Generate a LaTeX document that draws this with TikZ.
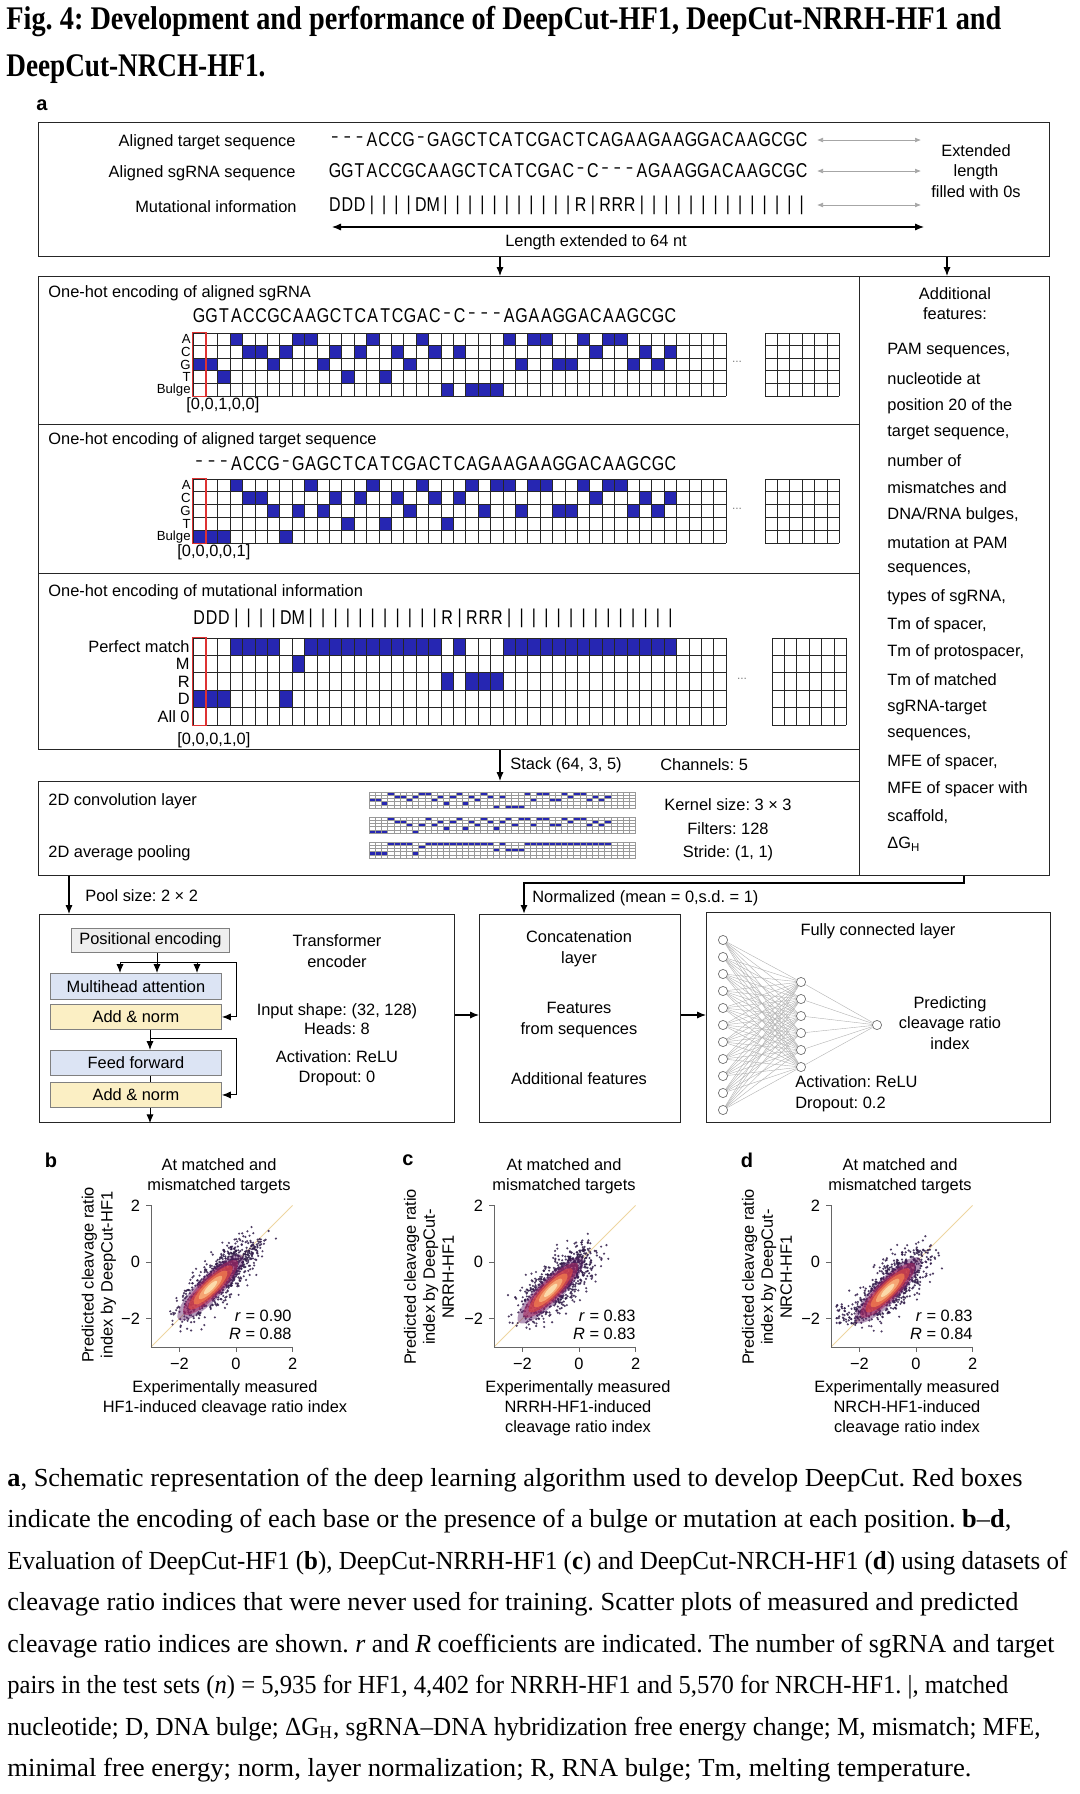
\documentclass[tikz,border=0pt]{standalone}
\usepackage{fontspec}
\usepackage{graphicx}
\setmainfont{Liberation Serif}
\newfontfamily\ff{Liberation Sans}
\newfontfamily\seqfont[FakeStretch=0.8]{Liberation Sans}
\usetikzlibrary{arrows.meta,calc}
\frenchspacing

\definecolor{cellblue}{RGB}{38,38,178}
\definecolor{redc}{RGB}{222,50,50}
\definecolor{pebg}{RGB}{238,238,238}
\definecolor{mhbg}{RGB}{220,228,244}
\definecolor{anbg}{RGB}{251,239,196}
\definecolor{dotc}{RGB}{48,28,72}
\definecolor{cA}{RGB}{95,32,105}
\definecolor{cB}{RGB}{165,42,100}
\definecolor{cC}{RGB}{218,70,70}
\definecolor{cD}{RGB}{242,125,78}
\definecolor{cE}{RGB}{250,180,125}
\definecolor{cF}{RGB}{253,228,180}
\definecolor{diagc}{RGB}{238,214,160}

\expandafter\def\csname rowofA\endcsname{0}
\expandafter\def\csname rowofC\endcsname{1}
\expandafter\def\csname rowofG\endcsname{2}
\expandafter\def\csname rowofT\endcsname{3}
\expandafter\def\csname rowof-\endcsname{4}
\expandafter\def\csname rowof|\endcsname{0}
\expandafter\def\csname rowofM\endcsname{1}
\expandafter\def\csname rowofR\endcsname{2}
\expandafter\def\csname rowofD\endcsname{3}
\expandafter\def\csname glyphof-\endcsname{\scalebox{0.62}[1]{–}}

\def\sgseq{G,G,T,A,C,C,G,C,A,A,G,C,T,C,A,T,C,G,A,C,-,C,-,-,-,A,G,A,A,G,G,A,C,A,A,G,C,G,C}
\def\tgseq{-,-,-,A,C,C,G,-,G,A,G,C,T,C,A,T,C,G,A,C,T,C,A,G,A,A,G,A,A,G,G,A,C,A,A,G,C,G,C}
\def\mseq{D,D,D,|,|,|,|,D,M,|,|,|,|,|,|,|,|,|,|,|,R,|,R,R,R,|,|,|,|,|,|,|,|,|,|,|,|,|,|}

\tikzset{
 ft/.style={font=\ff\fontsize{8.2}{9.8}\selectfont},
 every node/.style={inner sep=0pt, ft},
 bx/.style={draw=black!85, line width=0.65pt},
 arr/.style={-{Latex[length=4.5pt,width=3.6pt]}, line width=0.55pt},
 darr/.style={{Latex[length=4.5pt,width=3.6pt]}-{Latex[length=4.5pt,width=3.6pt]}, line width=0.55pt},
 garr/.style={{Latex[length=3pt,width=2.4pt]}-{Latex[length=3pt,width=2.4pt]}, draw=black!35, line width=0.35pt},
 seqf/.style={font=\seqfont\fontsize{10}{11}\selectfont, text=black},
 gl/.style={draw=black!85, line width=0.35pt},
 mgl/.style={draw=black!40, line width=0.12pt},
 nn/.style={circle, draw=black!55, fill=white, minimum size=4.6pt, line width=0.35pt},
 nnl/.style={draw=black!30, line width=0.2pt},
 axc/.style={draw=black!60, line width=0.4pt},
 inb/.style={draw=black!50, line width=0.45pt},
 rowl/.style={anchor=east, font=\ff\fontsize{6.6}{7}\selectfont},
}

\newcommand{\mybox}[7]{\node[#6, minimum width={(#4-#2)*0.5pt}, minimum height={(#5-#3)*0.5pt}, anchor=north west] (#1) at (#2,#3) {#7};}
\newcommand{\ohfill}[5]{\foreach \c [count=\i from 0] in #5 {\edef\rr{\csname rowof\c\endcsname}\fill[cellblue] ({#1+\i*#3},{#2+\rr*#4}) rectangle ++(#3,#4);}}
\newcommand{\ohlines}[6]{%
 \foreach \k in {0,...,#5} \draw[#6] ({#1+\k*#3},#2) -- ++(0,{5*#4});
 \foreach \k in {0,...,5} \draw[#6] (#1,{#2+\k*#4}) -- ++({#5*#3},0);}
\newcommand{\seqtext}[5]{\foreach \c [count=\i from 0] in #4 \node[seqf, name=#5\i] at ({#1+\i*#2},#3) {\ifcsname glyphof\c\endcsname\csname glyphof\c\endcsname\else\c\fi};}

\newcommand{\scplot}[7]{% shiftx, seed, center, along, perp, tail, corecenter
\begin{scope}[shift={(#1,1262)}, x=14.15pt, y=14.15pt]
 \begin{scope}
  \clip (-3.05,-3.05) rectangle (2.3,2.3);
  \draw[diagc, line width=0.5pt] (-3,-3) -- (2,2);
  \pgfmathsetseed{#2}
  \foreach \k in {1,...,900}{
    \pgfmathsetmacro\g{#3+(rand+rand+rand)*#4}
    \pgfmathsetmacro\h{(rand+rand+rand)*#5}
    \pgfmathsetmacro\px{\g+(\h)}
    \pgfmathsetmacro\py{\g-(\h)}
    \fill[dotc, opacity=0.85] (\px,\py) circle (0.6pt);
  }
  \foreach \k in {1,...,80}{
    \pgfmathsetmacro\g{#3+(rand+rand)*#4*1.1}
    \pgfmathsetmacro\h{rand*#5*3.4}
    \pgfmathsetmacro\px{\g+(\h)}
    \pgfmathsetmacro\py{\g-(\h)}
    \fill[dotc, opacity=0.85] (\px,\py) circle (0.6pt);
  }
  \ifnum#6=1
  \foreach \k in {1,...,60}{
    \pgfmathsetmacro\px{-2.4+rand*0.45}
    \pgfmathsetmacro\py{-1.85+rand*0.38}
    \fill[dotc, opacity=0.85] (\px,\py) circle (0.6pt);
  }
  \fi
  \begin{scope}[shift={(#7,#7)}, rotate=45]
    \fill[cA, opacity=.45] (0,0) ellipse (1.6 and 0.44);
    \fill[cB, opacity=.6] (0,0) ellipse (1.33 and 0.36);
    \fill[cC, opacity=.7] (0,0) ellipse (1.07 and 0.28);
    \fill[cD, opacity=.75] (0,0) ellipse (0.82 and 0.22);
    \fill[cE, opacity=.8] (0,0) ellipse (0.57 and 0.15);
    \fill[cF, opacity=.85] (0,0) ellipse (0.32 and 0.09);
  \end{scope}
 \end{scope}
 \draw[axc] (-3,2) -- (-3,-3) -- (2,-3);
 \foreach \v/\t [count=\n] in {-2/−2,0/0,2/2}{
   \draw[axc] (-3,\v) -- (-3.17,\v);
   \draw[axc] (\v,-3) -- (\v,-3.17);
   \node[anchor=east, name=ty#1n\n] at (-3.38,\v) {\t};
   \node[anchor=north, name=tx#1n\n] at (\v,-3.38) {\t};
 }
\end{scope}}

\begin{document}
\begin{tikzpicture}[x=0.5pt,y=-0.5pt]
\useasboundingbox (0,0) rectangle (1080,1794);
\fill[white] (0,0) rectangle (1080,1794);

% ---------------- title
\node[anchor=base west, font=\rmfamily\bfseries\fontsize{16.5}{18}\selectfont] (title1) at (6,29) {\resizebox{497.5pt}{\height}{Fig. 4: Development and performance of DeepCut-HF1, DeepCut-NRRH-HF1 and}};
\node[anchor=base west, font=\rmfamily\bfseries\fontsize{16.5}{18}\selectfont] (title2) at (6,76) {\resizebox{129.5pt}{\height}{DeepCut-NRCH-HF1.}};
\node[font=\ff\bfseries\fontsize{10}{12}\selectfont] (lbla) at (42,105) {a};

% ---------------- boxes
\mybox{topbox}{38}{122}{1049}{256}{bx}{}
\mybox{sgbox}{38}{276}{859}{424}{bx}{}
\mybox{tgbox}{38}{424}{859}{573}{bx}{}
\mybox{mbox}{38}{573}{859}{749}{bx}{}
\mybox{rbox}{859}{276}{1049}{875}{bx}{}
\mybox{conv}{38}{781}{859}{875}{bx}{}
\mybox{tbox}{39}{914}{454}{1122}{bx}{}
\mybox{cbox}{479}{914}{680}{1122}{bx}{}
\mybox{fcbox}{706}{912}{1050}{1122}{bx}{}

% ---------------- top box
\node[anchor=east, name=lt1] at (296,142) {Aligned target sequence};
\node[anchor=east, name=lt2] at (296,173) {Aligned sgRNA sequence};
\node[anchor=east, name=lt3] at (297,207) {Mutational information};
\seqtext{335}{12.28}{140}{\tgseq}{ta}
\seqtext{335}{12.28}{171}{\sgseq}{sa}
\seqtext{335}{12.28}{205}{\mseq}{ma}
\foreach \y [count=\n] in {140,171,205}{
  \coordinate (gl\n) at (817,\y); \coordinate (gr\n) at (921,\y);
  \draw[garr] (gl\n) -- (gr\n);
}
\node[align=center, name=ext] at (976,171) {Extended\\[0.6pt]length\\[0.6pt]filled with 0s};
\coordinate (ll) at (332,227); \coordinate (lr) at (924,227);
\draw[darr] (ll) -- (lr);
\node[name=lext] at (596,242) {Length extended to 64 nt};
\coordinate (xa) at (500,0); \coordinate (xb) at (947,0);
\draw[arr] (topbox.south -| xa) -- (sgbox.north -| xa);
\draw[arr] (topbox.south -| xb) -- (rbox.north -| xb);

% ---------------- sgRNA one-hot
\node[anchor=west, name=sgt] at (48,293) {One-hot encoding of aligned sgRNA};
\seqtext{199.2}{12.4}{316}{\sgseq}{sb}
\ohfill{193}{333}{12.4}{12.6}{\sgseq}
\ohlines{193}{333}{12.4}{12.6}{43}{gl}
\ohlines{765}{333}{12.4}{12.6}{6}{gl}
\draw[redc, line width=0.8pt] (192.6,332.6) rectangle (205.8,396.4);
\foreach \t [count=\n from 0] in {A,C,G,T,Bulge}
  \node[rowl, name=sgl\n] at (191,{333+12.6*(\n+0.5)}) {\t};
\node[anchor=west, name=sgv] at (186,405) {[0,0,1,0,0]};
\node[name=sgdots, text=black!50, font=\ff\fontsize{6}{6}\selectfont] at (737,362) {...};

% ---------------- target one-hot
\node[anchor=west, name=tgt] at (48,440) {One-hot encoding of aligned target sequence};
\seqtext{199.2}{12.4}{464}{\tgseq}{tb}
\ohfill{193}{479}{12.4}{12.8}{\tgseq}
\ohlines{193}{479}{12.4}{12.8}{43}{gl}
\ohlines{765}{479}{12.4}{12.8}{6}{gl}
\draw[redc, line width=0.8pt] (192.6,478.6) rectangle (205.8,543.4);
\foreach \t [count=\n from 0] in {A,C,G,T,Bulge}
  \node[rowl, name=tgl\n] at (191,{479+12.8*(\n+0.5)}) {\t};
\node[anchor=west, name=tgv] at (177,552) {[0,0,0,0,1]};
\node[name=tgdots, text=black!50, font=\ff\fontsize{6}{6}\selectfont] at (737,509) {...};

% ---------------- mutational one-hot
\node[anchor=west, name=mt] at (48,592) {One-hot encoding of mutational information};
\seqtext{199.2}{12.4}{618}{\mseq}{mb}
\ohfill{193}{638}{12.4}{17.4}{\mseq}
\ohlines{193}{638}{12.4}{17.4}{43}{gl}
\ohlines{772}{638}{12.4}{17.4}{6}{gl}
\draw[redc, line width=0.8pt] (192.6,637.6) rectangle (205.8,725.4);
\foreach \t [count=\n from 0] in {Perfect match,M,R,D,All 0}
  \node[anchor=east, name=ml\n] at (190,{638+17.4*(\n+0.5)}) {\t};
\node[anchor=west, name=mv] at (177,740) {[0,0,0,1,0]};
\node[name=mdots, text=black!50, font=\ff\fontsize{6}{6}\selectfont] at (742,679) {...};

% ---------------- stack
\draw[arr] (mbox.south -| xa) -- (conv.north -| xa);
\node[anchor=west, name=stk] at (510,765) {Stack (64, 3, 5)};
\node[anchor=west, name=chn] at (660,765) {Channels: 5};

% ---------------- additional features
\node[align=center, name=addh] at (955,304) {Additional\\[0.3pt]features:};
\foreach \t [count=\n] in {{PAM sequences,},{nucleotide at},{position 20 of the},{target sequence,},{number of},{mismatches and},{DNA/RNA bulges,},{mutation at PAM},{sequences,},{types of sgRNA,},{Tm of spacer,},{Tm of protospacer,},{Tm of matched},{sgRNA-target},{sequences,},{MFE of spacer,},{MFE of spacer with},{scaffold,},{ΔG\textsubscript{H}}}
  \node[anchor=west, name=af\n] at (887,{351+27.4*(\n-1)}) {\t};

% ---------------- conv
\node[anchor=west, name=cv1] at (48,801) {2D convolution layer};
\node[anchor=west, name=cv2] at (48,853) {2D average pooling};
\ohfill{369}{792}{6.2}{3.2}{\sgseq}
\ohlines{369}{792}{6.2}{3.2}{43}{mgl}
\ohfill{369}{817}{6.2}{3.2}{\tgseq}
\ohlines{369}{817}{6.2}{3.2}{43}{mgl}
\ohfill{369}{842}{6.2}{3.2}{\mseq}
\ohlines{369}{842}{6.2}{3.2}{43}{mgl}
\node[name=ks] at (728,805) {Kernel size: 3 × 3};
\node[name=fl] at (728,829) {Filters: 128};
\node[name=sd] at (728,853) {Stride: (1, 1)};

% ---------------- connectors between rows
\coordinate (px) at (69,0);
\draw[arr] (conv.south -| px) -- (tbox.north -| px);
\node[anchor=west, name=pool] at (85,896) {Pool size: 2 × 2};
\coordinate (n1) at (964,883); \coordinate (n2) at (524,883);
\draw[arr, line width=1pt] (rbox.south -| n1) -- (n1) -- (n2) -- (n2 |- cbox.north);
\node[anchor=west, name=norm] at (532,898) {Normalized (mean = 0,s.d. = 1)};
\coordinate (ay) at (0,1015);
\draw[arr] (tbox.east |- ay) -- (cbox.west |- ay);
\draw[arr] (cbox.east |- ay) -- (fcbox.west |- ay);

% ---------------- transformer
\mybox{pe}{71}{928}{229}{952}{inb, fill=pebg}{Positional encoding}
\mybox{mh}{50}{973}{221}{999}{inb, fill=mhbg}{Multihead attention}
\mybox{an1}{50}{1004}{221}{1029}{inb, fill=anbg}{Add \& norm}
\mybox{ffw}{50}{1050}{221}{1075}{inb, fill=mhbg}{Feed forward}
\mybox{an2}{50}{1082}{221}{1107}{inb, fill=anbg}{Add \& norm}
\coordinate (jL) at (120,962); \coordinate (jM) at (157,962);
\coordinate (jN) at (197,962); \coordinate (jR) at (236,962);
\coordinate (jv) at (150,0); \coordinate (jb) at (150,1038);
\draw[line width=0.5pt] (pe.south -| jM) -- (jM);
\draw[line width=0.5pt] (jL) -- (jR);
\draw[arr, line width=0.5pt] (jL) -- (jL |- mh.north);
\draw[arr, line width=0.5pt] (jM) -- (jM |- mh.north);
\draw[arr, line width=0.5pt] (jN) -- (jN |- mh.north);
\draw[arr, line width=0.5pt] (jR) |- (an1.east);
\draw[arr, line width=0.5pt] (an1.south -| jv) -- (ffw.north -| jv);
\draw[arr, line width=0.5pt] (jb) -- (jb -| jR) |- (an2.east);
\draw[line width=0.5pt] (ffw.south -| jv) -- (an2.north -| jv);
\draw[arr, line width=0.5pt] (an2.south -| jv) -- (tbox.south -| jv);
\node[align=center, name=tenc] at (337,951) {Transformer\\[0.5pt]encoder};
\node[align=center, name=tin] at (337,1019) {Input shape: (32, 128)\\Heads: 8};
\node[align=center, name=tact] at (337,1068) {Activation: ReLU\\Dropout: 0};

% ---------------- concatenation
\node[align=center, name=cc1] at (579,949) {Concatenation\\[0.5pt]layer};
\node[align=center, name=cc2] at (579,1020) {Features\\[0.5pt]from sequences};
\node[name=cc3] at (579,1079) {Additional features};

% ---------------- fully connected
\node[name=fct] at (878,931) {Fully connected layer};
\foreach \k in {0,...,10} \node[nn, name=in\k] at (723,{940+17*\k}) {};
\foreach \k in {0,...,5} \node[nn, name=hd\k] at (801,{982+17*\k}) {};
\node[nn, name=out] at (877,1025) {};
\foreach \a in {0,...,10}{\foreach \b in {0,...,5}{\draw[nnl] (in\a) -- (hd\b);}}
\foreach \b in {0,...,5} \draw[nnl] (hd\b) -- (out);
\node[align=center, name=pred] at (950,1023) {Predicting\\[0.5pt]cleavage ratio\\[0.5pt]index};
\node[align=left, anchor=west, name=fcact] at (795,1094) {Activation: ReLU\\[0.5pt]Dropout: 0.2};

% ---------------- scatter plots
\scplot{236}{11}{-0.6}{0.64}{0.19}{0}{-0.9}
\scplot{579}{23}{-0.75}{0.58}{0.21}{0}{-1.0}
\scplot{916}{37}{-0.8}{0.56}{0.2}{1}{-1.0}

\node[font=\ff\bfseries\fontsize{10}{12}\selectfont, name=lblb] at (51,1160) {b};
\node[font=\ff\bfseries\fontsize{10}{12}\selectfont, name=lblc] at (408,1160) {c};
\node[font=\ff\bfseries\fontsize{10}{12}\selectfont, name=lbld] at (747,1160) {d};

\node[align=center, name=tb] at (219,1176) {At matched and\\[0.3pt]mismatched targets};
\node[align=center, name=tc] at (564,1176) {At matched and\\[0.3pt]mismatched targets};
\node[align=center, name=td] at (900,1176) {At matched and\\[0.3pt]mismatched targets};

\node[align=center, rotate=90, name=yb] at (99,1275) {Predicted cleavage ratio\\[-0.3pt]index by DeepCut-HF1};
\node[align=center, rotate=90, name=yc] at (429,1277) {Predicted cleavage ratio\\[-0.3pt]index by DeepCut-\\[-0.3pt]NRRH-HF1};
\node[align=center, rotate=90, name=yd] at (767,1277) {Predicted cleavage ratio\\[-0.3pt]index by DeepCut-\\[-0.3pt]NRCH-HF1};

\node[align=center, anchor=north, name=xb] at (225,1380) {Experimentally measured\\[0.2pt]HF1-induced cleavage ratio index};
\node[align=center, anchor=north, name=xc] at (578,1380) {Experimentally measured\\[0.2pt]NRRH-HF1-induced\\[0.2pt]cleavage ratio index};
\node[align=center, anchor=north, name=xd] at (907,1380) {Experimentally measured\\[0.2pt]NRCH-HF1-induced\\[0.2pt]cleavage ratio index};

\node[anchor=east, name=rb1] at (292,1316) {\textit{r} = 0.90};
\node[anchor=east, name=rb2] at (292,1334) {\textit{R} = 0.88};
\node[anchor=east, name=rc1] at (636,1316) {\textit{r} = 0.83};
\node[anchor=east, name=rc2] at (636,1334) {\textit{R} = 0.83};
\node[anchor=east, name=rd1] at (973,1316) {\textit{r} = 0.83};
\node[anchor=east, name=rd2] at (973,1334) {\textit{R} = 0.84};

% ---------------- caption
\def\capfont{\rmfamily\fontsize{13}{15}\selectfont}
\node[anchor=base west, font=\capfont, name=cap1] at (7,1486) {\resizebox{507.5pt}{\height}{\textbf{a}, Schematic representation of the deep learning algorithm used to develop DeepCut. Red boxes}};
\node[anchor=base west, font=\capfont, name=cap2] at (7,1527) {\resizebox{502pt}{\height}{indicate the encoding of each base or the presence of a bulge or mutation at each position. \textbf{b}–\textbf{d},}};
\node[anchor=base west, font=\capfont, name=cap3] at (7,1569) {\resizebox{530pt}{\height}{Evaluation of DeepCut-HF1 (\textbf{b}), DeepCut-NRRH-HF1 (\textbf{c}) and DeepCut-NRCH-HF1 (\textbf{d}) using datasets of}};
\node[anchor=base west, font=\capfont, name=cap4] at (7,1610) {\resizebox{505.5pt}{\height}{cleavage ratio indices that were never used for training. Scatter plots of measured and predicted}};
\node[anchor=base west, font=\capfont, name=cap5] at (7,1652) {\resizebox{523.5pt}{\height}{cleavage ratio indices are shown. \textit{r} and \textit{R} coefficients are indicated. The number of sgRNA and target}};
\node[anchor=base west, font=\capfont, name=cap6] at (7,1693) {\resizebox{500.5pt}{\height}{pairs in the test sets (\textit{n}) = 5,935 for HF1, 4,402 for NRRH-HF1 and 5,570 for NRCH-HF1. |, matched}};
\node[anchor=base west, font=\capfont, name=cap7] at (7,1735) {\resizebox{516.5pt}{\height}{nucleotide; D, DNA bulge; ΔG\textsubscript{H}, sgRNA–DNA hybridization free energy change; M, mismatch; MFE,}};
\node[anchor=base west, font=\capfont, name=cap8] at (7,1776) {\resizebox{482pt}{\height}{minimal free energy; norm, layer normalization; R, RNA bulge; Tm, melting temperature.}};
\end{tikzpicture}
\end{document}
